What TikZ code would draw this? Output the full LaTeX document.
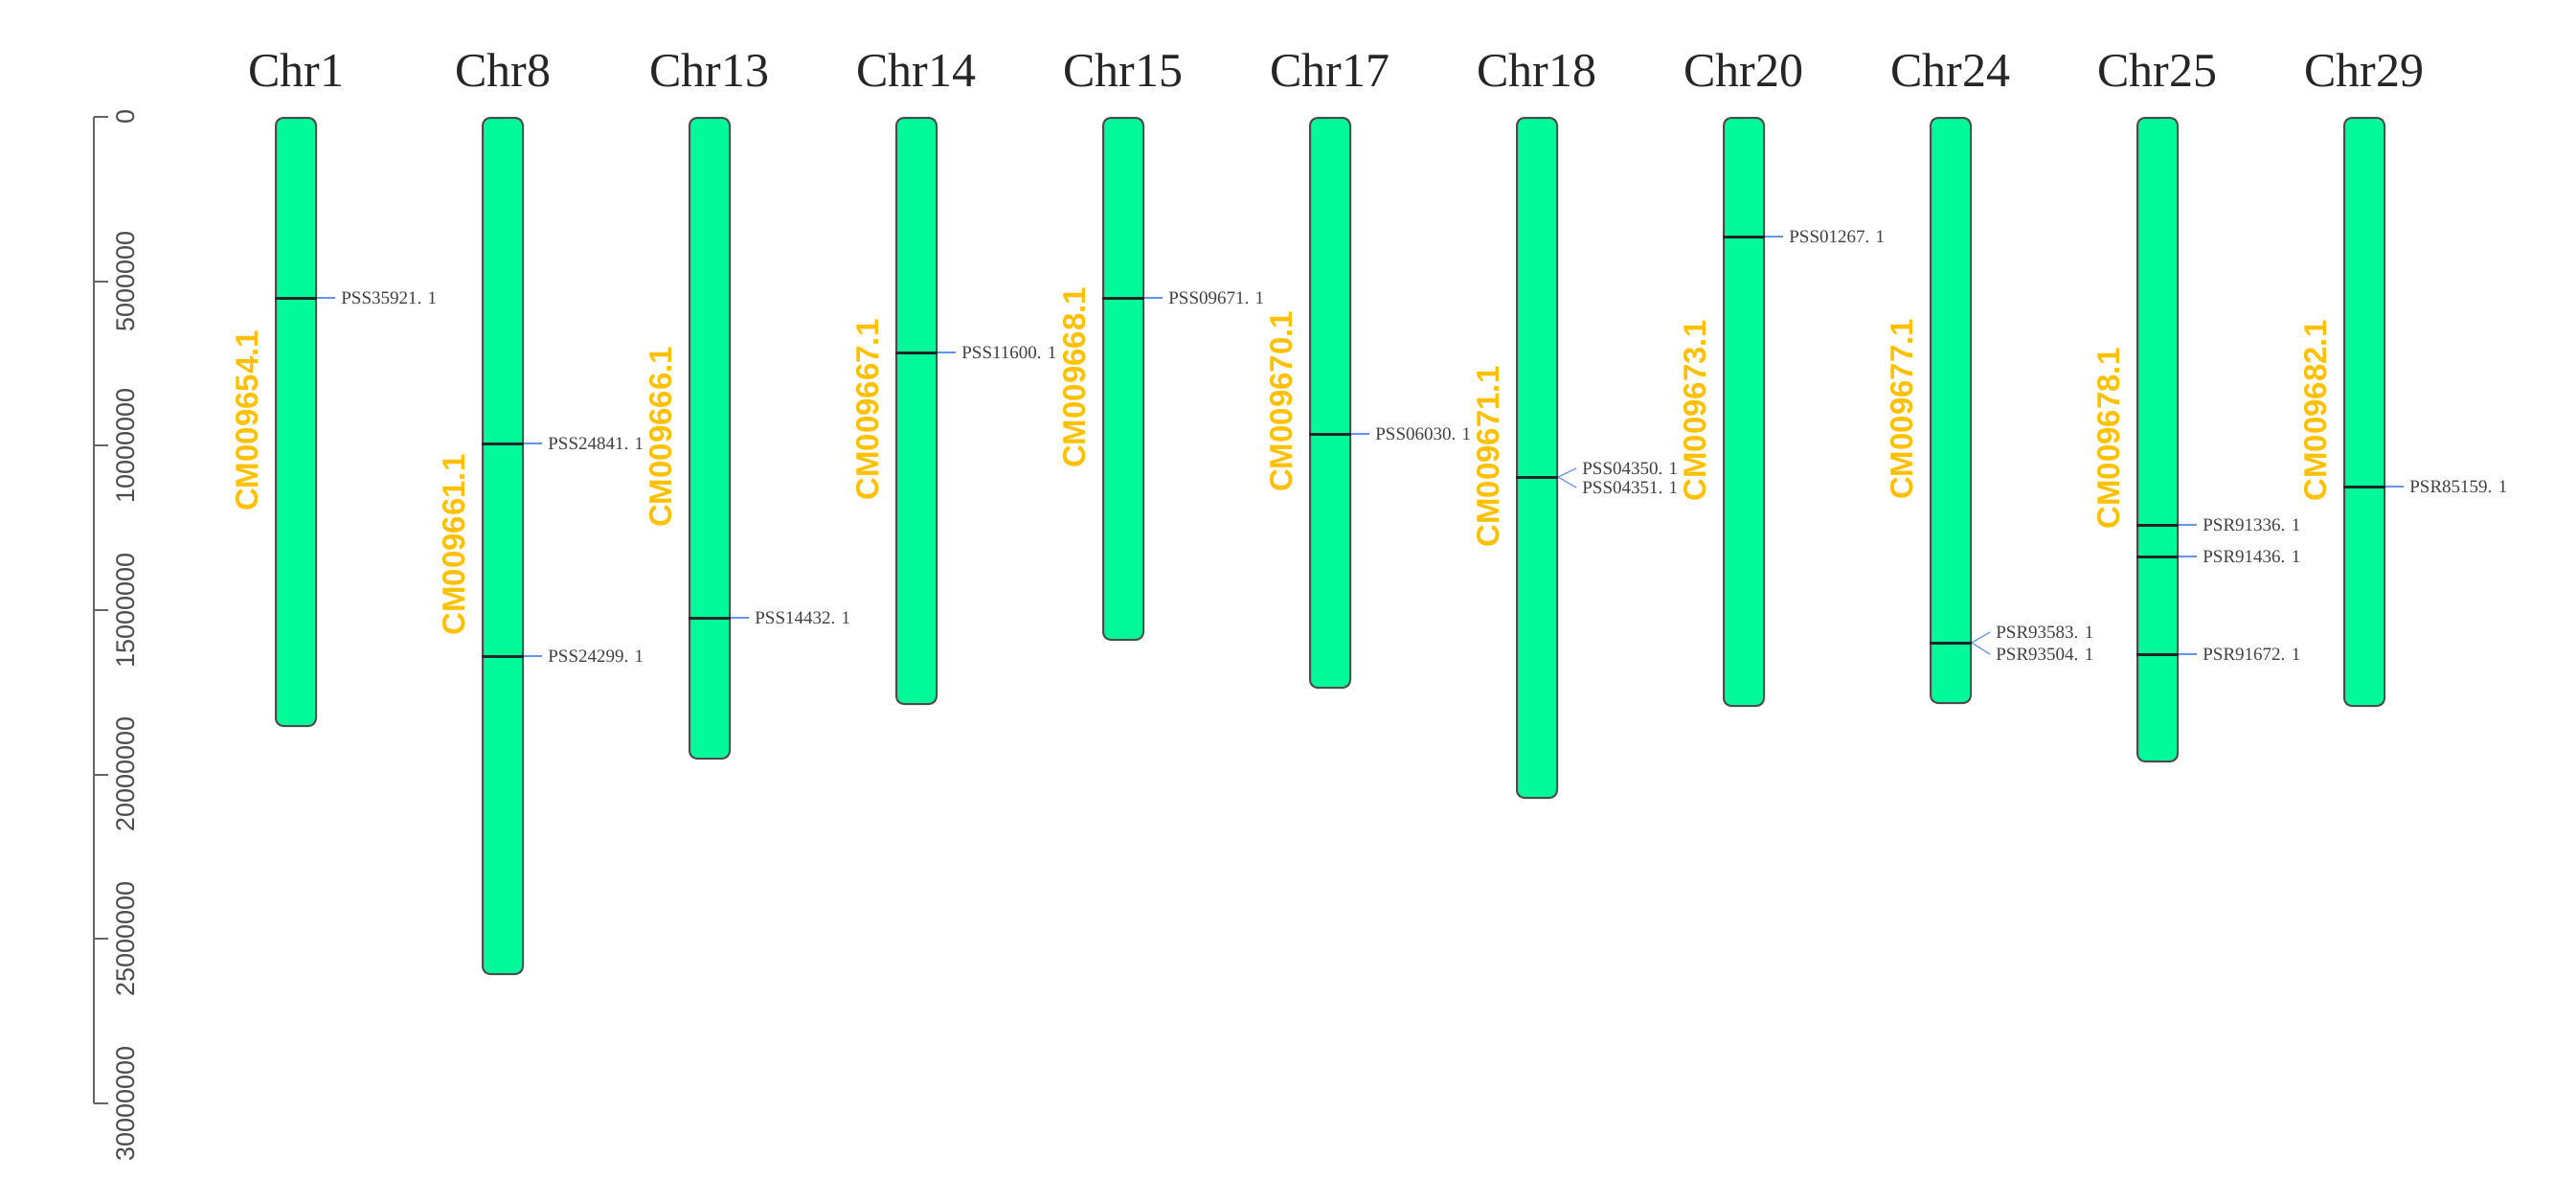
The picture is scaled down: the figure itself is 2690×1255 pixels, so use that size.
\documentclass[tikz,border=0pt]{standalone}
\usepackage{fontspec}
\setmainfont{Liberation Serif}
\newfontfamily\arialfont{Liberation Sans}
\definecolor{chromfill}{HTML}{00FA9A}
\definecolor{cmgold}{HTML}{FFC000}
\definecolor{conncol}{HTML}{6495ED}
\begin{document}
\begin{tikzpicture}[x=0.5pt,y=-0.5pt]
\tikzset{
 chrom/.style={draw=black!70, line width=1pt, fill=chromfill, rounded corners=4pt, inner sep=0pt, minimum width=21pt, anchor=north},
 geneline/.style={draw=black!85, line width=1.5pt},
 conn/.style={draw=conncol, line width=0.6pt},
 genelab/.style={anchor=west, inner sep=3pt, font=\fontsize{9.5}{10}\selectfont, text=black!75},
 cmlab/.style={rotate=90, font=\arialfont\bfseries\fontsize{16.5}{18}\selectfont, text=cmgold, inner sep=0pt},
 chrtitle/.style={font=\fontsize{25}{28}\selectfont, text=black!85, inner sep=0pt, anchor=base},
 axisline/.style={draw=black!60, line width=1pt},
 ticklab/.style={rotate=90, font=\arialfont\fontsize{13.5}{14}\selectfont, text=black!70, inner sep=0pt},
}
\useasboundingbox (0,0) rectangle (2690,1255);
% axis
\draw[axisline] (98,122) -- (98,1152);
\foreach \k/\lab in {0/0,1/5000000,2/10000000,3/15000000,4/20000000,5/25000000,6/30000000}{
  \pgfmathsetmacro\ty{122+171.67*\k}
  \draw[axisline] (98,\ty) -- (113,\ty);
  \node[ticklab] (tick\k) at (131,\ty) {\lab};
}
% chromosomes
\foreach \i/\name/\b/\cm in {0/1/757/CM009654.1, 1/8/1016/CM009661.1, 2/13/791/CM009666.1, 3/14/734/CM009667.1, 4/15/667/CM009668.1, 5/17/717/CM009670.1, 6/18/832/CM009671.1, 7/20/736/CM009673.1, 8/24/733/CM009677.1, 9/25/794/CM009678.1, 10/29/736/CM009682.1}{
  \pgfmathsetmacro\xl{288+216*\i}
  \pgfmathsetmacro\xc{\xl+21}
  \pgfmathsetmacro\ym{(122+\b)/2}
  \pgfmathsetmacro\hh{(\b-122)*0.5}
  \node[chrom, minimum height=\hh pt] (chr\name) at (\xc,122) {};
  \node[chrtitle] (title\name) at (\xc,90) {Chr\name};
  \node[cmlab] (cm\name) at (\xl-30,\ym) {\cm};
}
% genes
\foreach \c/\y/\ly/\lab/\id in {1/311/311/PSS35921. 1/a, 8/463/463/PSS24841. 1/b, 8/685/685/PSS24299. 1/c, 13/645/645/PSS14432. 1/d, 14/368/368/PSS11600. 1/e, 15/311/311/PSS09671. 1/f, 17/453/453/PSS06030. 1/g, 18/498/489/PSS04350. 1/h, 18/498/509/PSS04351. 1/i, 20/247/247/PSS01267. 1/j, 24/671/660/PSR93583. 1/k, 24/671/683/PSR93504. 1/l, 25/548/548/PSR91336. 1/m, 25/581/581/PSR91436. 1/n, 25/683/683/PSR91672. 1/o, 29/508/508/PSR85159. 1/p}{
  \draw[geneline] (chr\c.west |- 0,\y) -- (chr\c.east |- 0,\y) coordinate (ge\id);
  \path (ge\id |- 0,\ly) ++(19,0) node[genelab] (lab\id) {\lab};
  \draw[conn] (ge\id) -- (lab\id.west);
}
\end{tikzpicture}
\end{document}
